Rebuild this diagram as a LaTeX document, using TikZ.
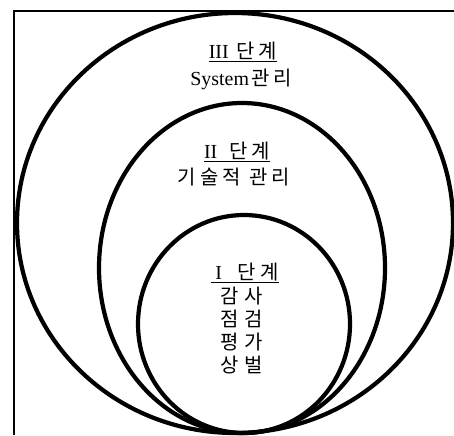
\documentclass[tikz,border=0pt]{standalone}
\usepackage{fontspec}
\setmainfont{Liberation Serif}
\newfontfamily\kr{Noto Sans CJK KR}
\usetikzlibrary{positioning}

\tikzset{
  ring/.style={line width=3.6pt},
  stage/.style={font=\fontsize{17}{20}\selectfont, inner sep=0pt, anchor=base}
}

\begin{document}
\begin{tikzpicture}[x=0.03cm,y=-0.03cm]
\useasboundingbox (0,0) rectangle (454,435);
% frame
\draw[line width=0.9pt] (14,435) -- (14,11) -- (454,11);
% three stages, touching at the bottom
\draw[ring] (235,223) ellipse [x radius=218, y radius=210];
\draw[ring] (242,268) ellipse [x radius=143, y radius=165];
\draw[ring] (244,324) ellipse [x radius=106, y radius=109];
% stage III
\node[stage] (h3) at (243,58) {\underline{III\hspace{0.4em}{\kr 단\hspace{0.2em}계}}};
\node[stage] (t3) at (241,85) {System\hspace{0.1em}{\kr 관\hspace{0.2em}리}};
% stage II
\node[stage] (h2) at (237,158) {\underline{II\hspace{0.6em}{\kr 단\hspace{0.2em}계}}};
\node[stage] (t2) at (234,184) {\kr 기\hspace{0.2em}술\hspace{0.2em}적\hspace{0.45em}관\hspace{0.2em}리};
% stage I
\node[stage] (h1) at (245,279) {\underline{\hspace{0.2em}I\hspace{0.8em}{\kr 단\hspace{0.2em}계}}};
\node[stage] (a1) at (242,303) {\kr 감\hspace{0.3em}사};
\node[stage] (a2) at (242,326) {\kr 점\hspace{0.3em}검};
\node[stage] (a3) at (242,349) {\kr 평\hspace{0.3em}가};
\node[stage] (a4) at (242,372) {\kr 상\hspace{0.3em}벌};
\end{tikzpicture}
\end{document}
